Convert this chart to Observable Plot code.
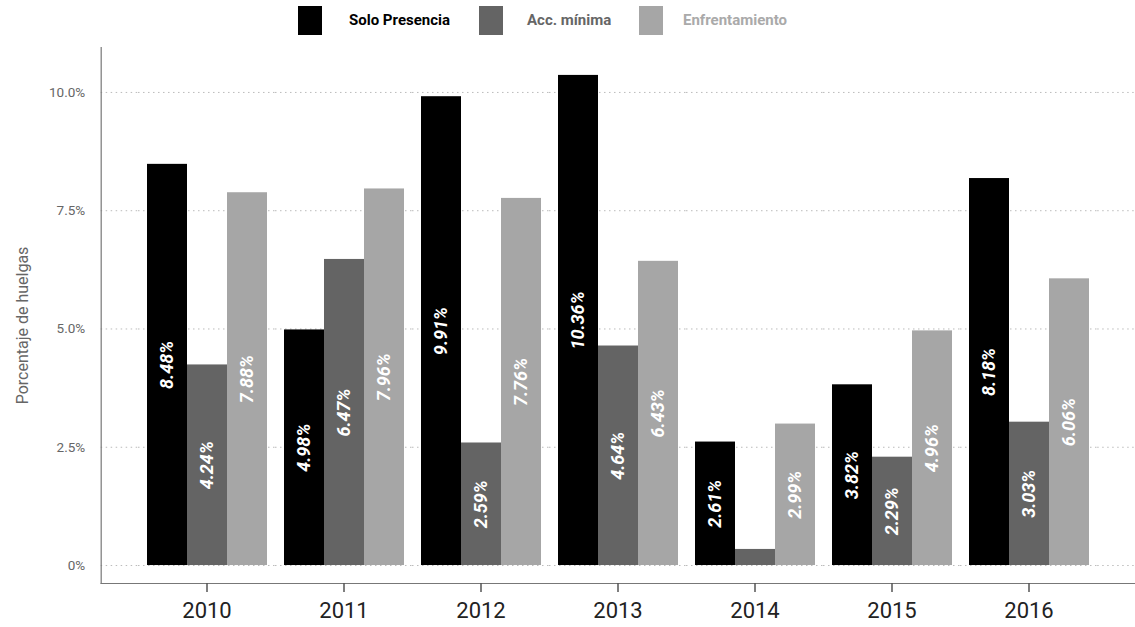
<!DOCTYPE html>
<html><head><meta charset="utf-8">
<script src="https://cdn.jsdelivr.net/npm/d3@7"></script>
<script src="https://cdn.jsdelivr.net/npm/@observablehq/plot@0.6"></script>
<style>
body{margin:0;background:#fff;font-family:Roboto, sans-serif;}
#wrap{position:relative;width:1135px;height:627px;overflow:hidden;}
#legend{position:relative;height:40px;}
.sw{position:absolute;top:6px;width:24px;height:29px;}
.lt{position:absolute;top:10px;font-size:15px;font-weight:bold;line-height:20px;white-space:nowrap;}
</style></head><body>
<div id="wrap"><div id="legend"></div><div id="chart"></div></div>
<script>
const years = ["2010","2011","2012","2013","2014","2015","2016"];
const seriesNames = ["Solo Presencia","Acc. mínima","Enfrentamiento"];
const soloPresencia = [8.48,4.98,9.91,10.36,2.61,3.82,8.18];
const accMinima = [4.24,6.47,2.59,4.64,0.34,2.29,3.03];
const enfrentamiento = [7.88,7.96,7.76,6.43,2.99,4.96,6.06];
const barColors = ["#000000","#646464","#a6a6a6"];
const legendTextColors = ["#000000","#666666","#aaaaaa"];
const yTicks = [0,2.5,5,7.5,10];
const yTickLabels = ["0%","2.5%","5.0%","7.5%","10.0%"];
const yTitle = "Porcentaje de huelgas";

// legend
const legend = document.getElementById("legend");
const swLeft = [298,479,639], txtLeft = [349,527,683];
seriesNames.forEach((s,i)=>{
  const sw = document.createElement("div");
  sw.className="sw"; sw.style.left=swLeft[i]+"px"; sw.style.background=barColors[i];
  legend.appendChild(sw);
  const t = document.createElement("div");
  t.className="lt"; t.style.left=txtLeft[i]+"px"; t.style.color=legendTextColors[i];
  t.textContent=s; legend.appendChild(t);
});

const values = [soloPresencia, accMinima, enfrentamiento];
const data = years.flatMap((yr,i)=>seriesNames.map((s,j)=>({year:yr, series:s, value:values[j][i]})));
const yMin = -0.38;

const W = 1135, ML = 100, MR = 0, padOuter = 0.272;
const step = (W - ML - MR) / (years.length + 2 * padOuter);
const edge = padOuter * step;
const gridStyle = {ticks:yTicks, stroke:"#bbbbbb", strokeOpacity:1, strokeDasharray:"1.5,3.5"};

const plot = Plot.plot({
  width:W, height:587, marginLeft:ML, marginRight:MR, marginTop:7, marginBottom:44,
  style:{fontFamily:"Roboto, sans-serif", background:"white", overflow:"visible"},
  fx:{domain:years, paddingInner:0, paddingOuter:padOuter, label:null},
  x:{domain:seriesNames, paddingInner:0, paddingOuter:0.186, axis:null},
  y:{domain:[yMin,10.95]},
  color:{domain:seriesNames, range:barColors},
  marks:[
    Plot.gridY(gridStyle),
    Plot.gridY({...gridStyle, facetAnchor:"left", insetLeft:-edge, insetRight:step}),
    Plot.gridY({...gridStyle, facetAnchor:"right", insetLeft:step, insetRight:-edge}),
    Plot.barY(data,{fx:"year", x:"series", y:"value", fill:"series"}),
    Plot.text(data.filter(d=>d.value>=1),{fx:"year", x:"series", y:d=>d.value/2,
      text:d=>d.value.toFixed(2)+"%", rotate:-90, fill:"white", fontWeight:"bold",
      fontStyle:"italic", fontSize:18, letterSpacing:"1.2px"}),
    Plot.frame({anchor:"bottom", facet:"super", stroke:"#777777", strokeWidth:1.2, insetLeft:-edge, insetRight:-edge}),
    Plot.frame({anchor:"left", facet:"super", stroke:"#777777", strokeWidth:1.2, insetLeft:-edge}),
    Plot.text([yTitle],{facet:"super", frameAnchor:"left", textAnchor:"middle", text:d=>d, rotate:-90, dx:-(edge+78), dy:10,
      fontSize:16, fill:"#666666"}),
    Plot.axisY({ticks:yTicks, tickFormat:d=>yTickLabels[yTicks.indexOf(d)], tickSize:0, tickPadding:16+edge,
      fontSize:13.5, color:"#666666", label:null}),
    Plot.axisFx({anchor:"bottom", tickSize:9, tickPadding:10, fontSize:22, color:"#222222", stroke:"#555555", strokeWidth:1.5, label:null})
  ]
});
document.getElementById("chart").appendChild(plot);
</script>
</body></html>
